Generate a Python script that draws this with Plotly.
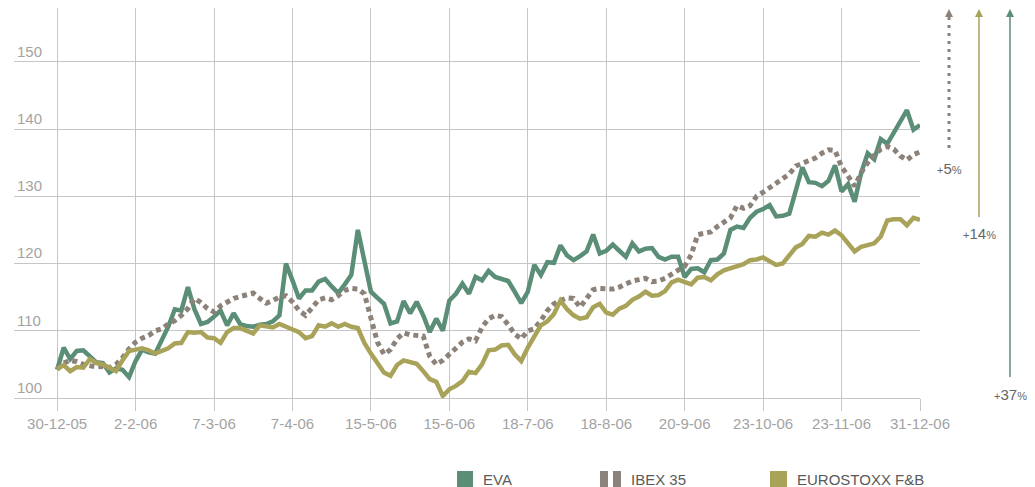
import plotly.graph_objects as go

# ---------------- data ----------------
dates = ['30-12-05', '2-2-06', '7-3-06', '7-4-06', '15-5-06', '15-6-06',
         '18-7-06', '18-8-06', '20-9-06', '23-10-06', '23-11-06', '31-12-06']
points_per_tick = 12

eva = [104.2, 107.5, 105.8, 107.0, 107.1, 106.2, 105.3, 105.2, 103.8, 104.4, 104.2, 103.1, 105.5,
       107.2, 106.8, 106.6, 108.5, 110.6, 113.2, 113.0, 116.5, 113.2, 111.0, 111.3, 112.1,
       113.0, 110.8, 112.6, 111.0, 110.7, 110.6, 110.9, 111.0, 111.4, 112.3, 120.0, 117.5,
       114.8, 116.0, 116.0, 117.3, 117.7, 116.6, 115.6, 116.9, 118.3, 125.0, 120.5, 115.8,
       114.9, 114.0, 111.1, 111.4, 114.4, 112.6, 114.3, 112.3, 109.8, 111.8, 110.0, 114.5,
       115.5, 117.0, 115.5, 118.0, 117.5, 118.9, 118.0, 117.7, 117.4, 115.8, 114.1, 115.8,
       119.8, 118.3, 120.2, 120.1, 122.7, 121.2, 120.5, 121.1, 121.8, 124.3, 121.5, 121.9,
       122.8, 121.9, 121.0, 123.0, 121.8, 122.2, 122.3, 121.0, 120.6, 121.0, 121.0, 118.0,
       119.2, 119.3, 118.7, 120.5, 120.6, 121.5, 125.0, 125.5, 125.3, 126.8, 127.7, 128.1,
       128.7, 127.0, 127.1, 127.4, 131.1, 134.3, 132.1, 132.0, 131.5, 132.3, 134.6, 130.7,
       131.8, 129.2, 133.5, 136.4, 135.5, 138.5, 137.8, 139.5, 141.0, 142.8, 139.9, 140.6]

ibex = [104.3, 105.2, 105.6, 105.4, 105.0, 104.8, 104.6, 104.7, 104.5, 105.0, 106.0, 107.3, 108.3,
        108.9, 109.3, 110.0, 110.3, 111.0, 111.5, 112.3, 113.3, 114.8, 114.2, 113.3, 112.8,
        113.7, 114.3, 114.8, 115.1, 115.3, 115.6, 114.8, 114.1, 114.5, 115.0, 115.2, 114.3,
        113.0, 112.3, 113.4, 114.6, 114.9, 114.6, 115.2, 116.0, 116.3, 116.2, 115.5, 111.8,
        108.3, 106.5, 107.2, 108.8, 109.7, 109.4, 109.3, 109.2, 106.2, 105.0, 105.6, 106.5,
        107.3, 108.3, 108.8, 108.5, 110.5, 111.8, 112.3, 112.1, 110.9, 109.5, 108.8, 110.0,
        110.3, 111.5, 113.0, 114.0, 114.5, 114.9, 114.8, 113.5, 114.8, 116.1, 116.3, 116.3,
        116.2, 116.5, 116.9, 117.4, 117.6, 117.8, 117.3, 117.4, 117.8, 118.3, 119.0, 119.6,
        121.3, 124.3, 124.5, 124.7, 125.5, 126.2, 126.8, 128.6, 128.2, 128.6, 130.0, 130.6,
        131.3, 132.0, 132.5, 133.3, 134.5, 134.9, 135.2, 135.7, 136.4, 136.9, 136.8, 134.4,
        133.0, 131.5, 133.5, 135.0, 136.1, 137.0, 137.4, 137.0, 136.0, 135.4, 136.2, 136.6]

eurostoxx = [104.3, 104.9, 104.0, 104.6, 104.5, 105.8, 105.2, 105.0, 104.5, 104.0, 105.6, 107.0, 107.2,
             107.4, 107.1, 106.6, 107.0, 107.4, 108.1, 108.2, 109.8, 109.7, 109.8, 109.0, 108.9,
             108.2, 109.8, 110.4, 110.4, 110.0, 109.6, 110.8, 110.6, 110.5, 111.0, 110.6, 110.3,
             109.8, 108.9, 109.2, 110.8, 110.6, 111.1, 110.6, 111.0, 110.6, 110.4, 108.2, 106.6,
             105.3, 103.8, 103.3, 104.9, 105.6, 105.4, 105.1, 104.0, 102.8, 102.4, 100.3, 101.3,
             101.8, 102.5, 103.9, 103.7, 105.0, 107.1, 107.2, 107.8, 107.9, 106.5, 105.5, 107.5,
             109.3, 110.8, 111.4, 112.5, 114.5, 113.2, 112.3, 111.8, 112.0, 113.5, 114.0, 112.7,
             112.4, 113.3, 113.7, 114.6, 115.1, 115.8, 115.2, 115.3, 115.9, 117.2, 117.6, 117.3,
             116.9, 117.9, 118.0, 117.5, 118.4, 119.0, 119.3, 119.5, 119.9, 120.5, 120.6, 120.9,
             120.4, 119.8, 120.0, 121.2, 122.4, 122.9, 124.1, 124.0, 124.6, 124.3, 124.9, 124.2,
             123.1, 121.8, 122.5, 122.8, 123.0, 124.0, 126.4, 126.6, 126.6, 125.7, 126.8, 126.5]

y_ticks = [100, 110, 120, 130, 140, 150]
series_names = ['EVA', 'IBEX 35', 'EUROSTOXX F&B']
changes = ['+5', '+14', '+37']  # IBEX, EUROSTOXX, EVA

# ---------------- style ----------------
GREEN = '#5b8e77'
OLIVE = '#a9a35a'
GRAYD = '#8c8279'
GRID = '#c6c6c6'
TICK = '#a3a3a3'
TEXT = '#5a5a5a'
FONT = 'Liberation Sans, Arial, sans-serif'

# the page adds an 8px body margin; the figure is sized so that it fills the window
OFF = 8
W, H = 1035 - OFF, 487 - OFF
ML, MR, MT, MB = 14 - OFF, 115, 8 - OFF, 89
PW, PH = W - ML - MR, H - MT - MB


def px(xp):  # page pixel x -> paper
    return (xp - OFF - ML) / PW


def py(yp):  # page pixel y -> paper
    return (H + OFF - MB - yp) / PH


x = list(range(len(eva)))
tickvals = [i * points_per_tick for i in range(len(dates))]

fig = go.Figure()
fig.add_trace(go.Scatter(x=x, y=eva, mode='lines', name=series_names[0],
                         line=dict(color=GREEN, width=4.5), hoverinfo='skip'))
fig.add_trace(go.Scatter(x=x, y=ibex, mode='lines', name=series_names[1],
                         line=dict(color=GRAYD, width=5, dash='5px,4px'), hoverinfo='skip'))
fig.add_trace(go.Scatter(x=x, y=eurostoxx, mode='lines', name=series_names[2],
                         line=dict(color=OLIVE, width=4.5), hoverinfo='skip'))

shapes = []
annotations = []

# right-side arrows
arrows = [
    (949, 148, GRAYD, True, changes[0], 168),
    (979, 217, OLIVE, False, changes[1], 234),
    (1010, 377, GREEN, False, changes[2], 394),
]
for ax_, ybot, col, dotted, lab, ylab in arrows:
    shapes.append(dict(type='line', xref='paper', yref='paper',
                       x0=px(ax_), x1=px(ax_), y0=py(ybot), y1=py(16),
                       line=dict(color=col, width=3 if dotted else 1.5,
                                 dash='3px,5px' if dotted else 'solid')))
    shapes.append(dict(type='path', xref='paper', yref='paper',
                       path=f'M {px(ax_-4)} {py(17)} L {px(ax_)} {py(9)} L {px(ax_+4)} {py(17)} Z',
                       fillcolor=col, line=dict(color=col, width=0)))
    annotations.append(dict(xref='paper', yref='paper', x=px(ax_), y=py(ylab),
                            text=f'<span style="font-size:11px">+</span>{lab[1:]}<span style="font-size:11px">%</span>',
                            showarrow=False, xanchor='center', yanchor='middle',
                            font=dict(family=FONT, size=15, color='#666666')))

# legend (bottom)
leg_y0, leg_y1 = 471, 487
shapes.append(dict(type='rect', xref='paper', yref='paper', x0=px(457), x1=px(473),
                   y0=py(leg_y1), y1=py(leg_y0), fillcolor=GREEN, line=dict(width=0)))
shapes.append(dict(type='rect', xref='paper', yref='paper', x0=px(600), x1=px(608),
                   y0=py(leg_y1), y1=py(leg_y0), fillcolor=GRAYD, line=dict(width=0)))
shapes.append(dict(type='rect', xref='paper', yref='paper', x0=px(613), x1=px(621),
                   y0=py(leg_y1), y1=py(leg_y0), fillcolor=GRAYD, line=dict(width=0)))
shapes.append(dict(type='rect', xref='paper', yref='paper', x0=px(770), x1=px(787),
                   y0=py(leg_y1), y1=py(leg_y0), fillcolor=OLIVE, line=dict(width=0)))
for name, xl in zip(series_names, [481, 629, 795]):
    annotations.append(dict(xref='paper', yref='paper', x=px(xl), y=py(480),
                            text=name, showarrow=False, xanchor='left', yanchor='middle',
                            font=dict(family=FONT, size=15, color=TEXT)))

fig.update_layout(
    width=W, height=H,
    margin=dict(l=ML, r=MR, t=MT, b=MB),
    plot_bgcolor='white', paper_bgcolor='white',
    showlegend=False,
    shapes=shapes, annotations=annotations,
    font=dict(family=FONT),
)
fig.update_xaxes(range=[-6.6, len(eva) - 1], tickvals=tickvals, ticktext=dates,
                 showgrid=True, gridcolor=GRID, gridwidth=1,
                 ticks='outside', ticklen=12, tickcolor=GRID, tickwidth=1,
                 showline=True, linecolor=GRID, linewidth=1, zeroline=False,
                 tickfont=dict(family=FONT, size=15, color=TICK))
fig.update_yaxes(range=[100, 158], tickvals=y_ticks,
                 ticklabelposition='inside top',
                 showgrid=True, gridcolor=GRID, gridwidth=1,
                 ticks='', showline=False, zeroline=False,
                 tickfont=dict(family=FONT, size=15, color=TICK))

fig.write_html('out.html')
